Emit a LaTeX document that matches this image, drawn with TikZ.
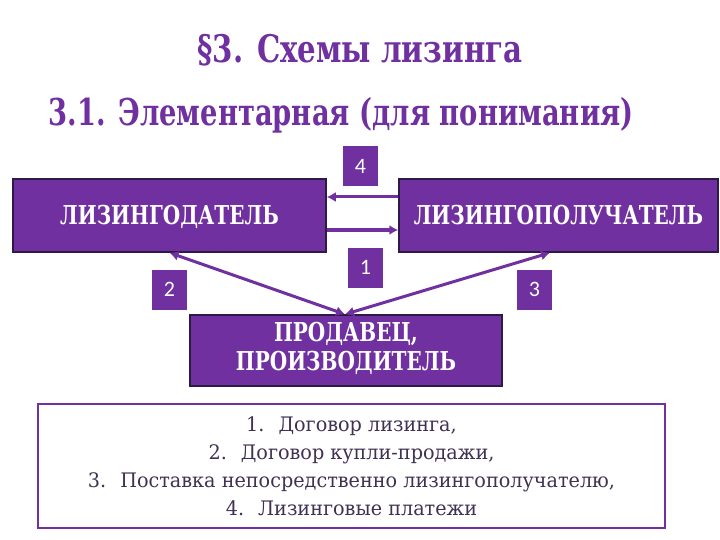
\documentclass[tikz,border=0pt]{standalone}
\usepackage{fontspec}
\setmainfont{DejaVu Serif}
\newfontfamily\titlefont{DejaVu Serif}[FakeStretch=0.77]
\newfontfamily\subfont{DejaVu Serif}[FakeStretch=0.74]
\newfontfamily\boxfont{DejaVu Serif}[FakeStretch=0.77]
\newfontfamily\listfont{DejaVu Serif}[FakeStretch=0.96]
\newfontfamily\numfont{Carlito}
\usetikzlibrary{arrows.meta}
\definecolor{lpurple}{HTML}{7030A0}
\definecolor{lborder}{HTML}{2E1A47}
\definecolor{ltext}{HTML}{403152}
\newcommand{\itemgap}{\hspace*{0.7em}}
\tikzset{
    mytitle/.style = {anchor=base, font=\titlefont\bfseries\fontsize{38}{42}\selectfont, text=lpurple},
    mysub/.style = {anchor=base, font=\subfont\bfseries\fontsize{37}{40}\selectfont, text=lpurple},
    mybox/.style = {rectangle, draw=lborder, line width=1.5pt, fill=lpurple, align=center, inner sep=0, font=\boxfont\bfseries\fontsize{26}{29}\selectfont, text=white},
    mynum/.style = {rectangle, fill=lpurple, minimum width=35pt, minimum height=40pt, inner sep=0, font=\numfont\fontsize{22}{24}\selectfont, text=white},
    mylegend/.style = {rectangle, draw=lpurple, line width=2pt, fill=white, align=center, inner sep=0, minimum width=627pt, minimum height=124pt, font=\listfont\fontsize{20}{28}\selectfont, text=ltext},
    edgen/.style = {-{Latex[length=9pt,width=10pt]}, line width=3pt, lpurple},
    edged/.style = {{Latex[length=9pt,width=10pt]}-{Latex[length=9pt,width=10pt]}, line width=3pt, lpurple}
}

\begin{document}
\begin{tikzpicture}[x=1pt,y=-1pt]
\useasboundingbox (0,0) rectangle (720,540);

\node[mytitle] at (360, 63) (title) {§3. Схемы лизинга};
\node[mysub] at (341,126) (sub) {3.1. Элементарная (для понимания)};

\node[mybox, minimum width=313pt, minimum height=73pt, text height=19pt, text depth=0pt] at (169.5,215.5) (lessor) {ЛИЗИНГОДАТЕЛЬ};
\node[mybox, minimum width=319pt, minimum height=73pt, text height=19pt, text depth=0pt] at (558.5,215.5) (lessee) {ЛИЗИНГОПОЛУЧАТЕЛЬ};
\node[mybox, minimum width=312pt, minimum height=71pt] at (346,350.5) (seller) {\strut ПРОДАВЕЦ,\\\strut ПРОИЗВОДИТЕЛЬ};

\node[mynum] at (360.5,166) (n4) {4};
\node[mynum] at (365.5,267.5) (n1) {1};
\node[mynum] at (169.5,289.5) (n2) {2};
\node[mynum] at (534.5,289.5) (n3) {3};

\draw[edgen] ([yshift=18.5pt]lessee.west) -- ([yshift=18.5pt]lessor.east);
\draw[edgen] ([yshift=-14.5pt]lessor.east) -- ([yshift=-14.5pt]lessee.west);
\draw[edged] (lessor.south) -- ([xshift=-1pt]seller.north);
\draw[edged] ([xshift=-8.5pt]lessee.south) -- ([xshift=-1pt]seller.north);

\node[mylegend] at (351.5,466) (legend) {1.\itemgap Договор лизинга,\\2.\itemgap Договор купли-продажи,\\3.\itemgap Поставка непосредственно лизингополучателю,\\4.\itemgap Лизинговые платежи};

\end{tikzpicture}
\end{document}
